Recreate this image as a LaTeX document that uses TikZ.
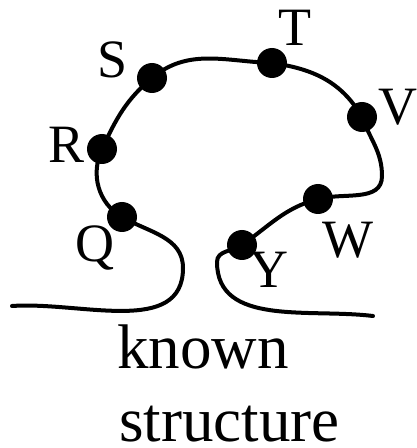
\documentclass[tikz,border=0pt]{standalone}
\usepackage{fontspec}
\setmainfont{Liberation Serif}
\usepackage{tikz}
\usetikzlibrary{positioning}

\begin{document}
\begin{tikzpicture}[
  x=1pt,y=1pt,
  every node/.style={inner sep=0pt},
  dot/.style={circle,fill=black,minimum size=30pt},
  lbl/.style={font=\fontsize{54}{60}\selectfont},
  caption/.style={font=\fontsize{63}{75}\selectfont,anchor=base west},
  chain/.style={line width=4pt,line cap=round}
]
\useasboundingbox (0,0) rectangle (416,448);
% loop ends and turning points
\coordinate (lend) at (12,142);
\coordinate (lhook) at (183,180);
\coordinate (rbulge) at (382,272);
\coordinate (rhook) at (217,186);
\coordinate (rend) at (373,132);
% residues
\node[dot] (q) at (122,231) {};
\node[dot] (r) at (102,299) {};
\node[dot] (s) at (152,370) {};
\node[dot] (t) at (272,385) {};
\node[dot] (v) at (362,331) {};
\node[dot] (w) at (318,249) {};
\node[dot] (y) at (242,203) {};
\node[lbl] (ql) at (95,200) {Q};
\node[lbl] (rl) at (67,303) {R};
\node[lbl] (sl) at (113,388) {S};
\node[lbl] (tl) at (295,420) {T};
\node[lbl] (vl) at (398,341) {V};
\node[lbl] (wl) at (348,208) {W};
\node[lbl] (yl) at (269,178) {Y};
\draw[chain] (lend) to[out=4,in=-90] (lhook)
  to[out=90,in=-30] (q.center)
  to[out=150,in=-115] (r.center)
  to[out=65,in=-140] (s.center)
  to[out=40,in=178] (t.center)
  to[out=-8,in=120] (v.center)
  to[out=-70,in=90] (rbulge)
  to[out=-90,in=15] (w.center)
  to[out=195,in=35] (y.center)
  to[out=215,in=90] (rhook)
  to[out=-90,in=173] (rend);
\node[caption] (known) at (117,79) {known};
\node[caption] (struct) at (119,6) {structure};
\end{tikzpicture}
\end{document}
